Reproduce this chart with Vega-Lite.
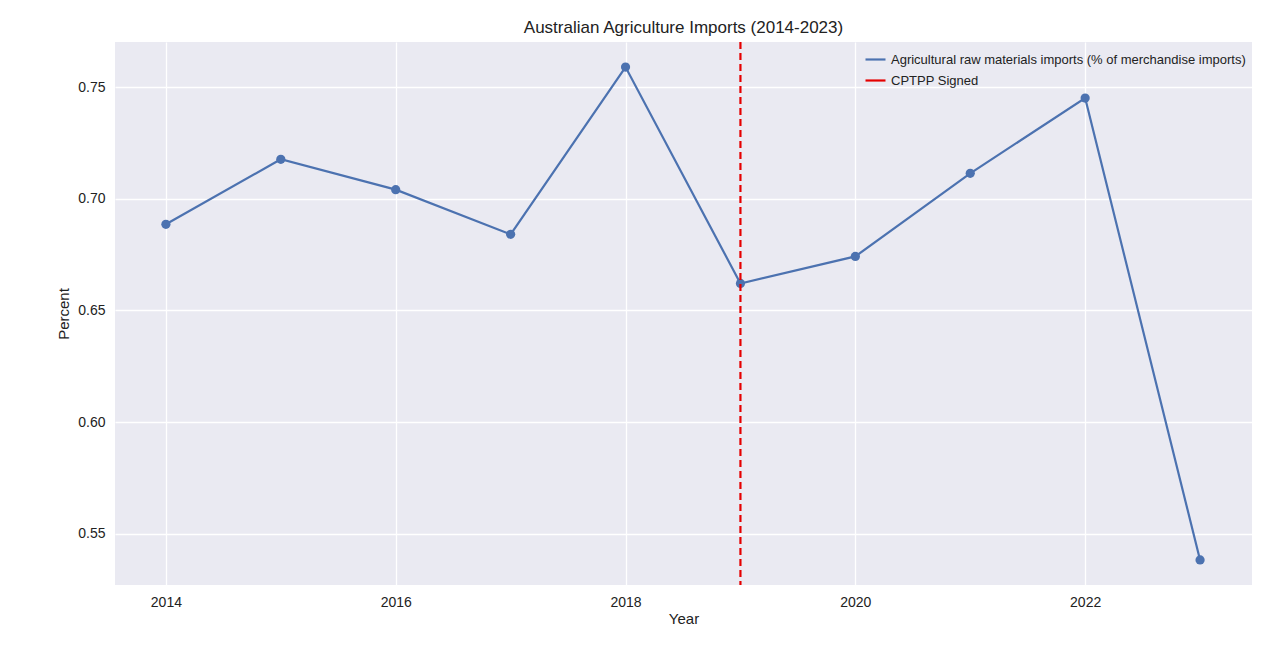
{
  "$schema": "https://vega.github.io/schema/vega-lite/v6.json",
  "autosize": {"type": "fit", "contains": "padding"},
  "width": 1276,
  "height": 653,
  "padding": {"left": 56, "top": 18, "right": 24, "bottom": 27},
  "background": "white",
  "title": {"text": "Australian Agriculture Imports (2014-2023)", "font": "Liberation Sans", "fontSize": 17, "fontWeight": "normal", "color": "#222", "offset": 4},
  "config": {
    "view": {"fill": "#eaeaf2", "stroke": null},
    "font": "Liberation Sans",
    "axis": {"grid": true, "gridColor": "white", "gridWidth": 1.3, "domain": false, "ticks": false, "labelFontSize": 14, "labelColor": "#222", "titleFontSize": 15, "titleFontWeight": "normal", "titleColor": "#222", "labelPadding": 10}
  },
  "data": {"values": [
    {"Year": 2014, "Percent": 0.6886},
    {"Year": 2015, "Percent": 0.7177},
    {"Year": 2016, "Percent": 0.7041},
    {"Year": 2017, "Percent": 0.6841},
    {"Year": 2018, "Percent": 0.7590},
    {"Year": 2019, "Percent": 0.6621},
    {"Year": 2020, "Percent": 0.6742},
    {"Year": 2021, "Percent": 0.7114},
    {"Year": 2022, "Percent": 0.7451},
    {"Year": 2023, "Percent": 0.5383}
  ]},
  "layer": [
    {
      "mark": {"type": "line", "strokeWidth": 2.2, "point": {"size": 85, "filled": true, "opacity": 1}},
      "encoding": {
        "x": {"field": "Year", "type": "quantitative", "scale": {"domain": [2013.557, 2023.452], "nice": false, "zero": false}, "axis": {"values": [2014, 2016, 2018, 2020, 2022], "format": "d", "titlePadding": 2}},
        "y": {"field": "Percent", "type": "quantitative", "scale": {"domain": [0.5271, 0.7702], "nice": false, "zero": false}, "axis": {"values": [0.55, 0.6, 0.65, 0.7, 0.75], "format": ".2f", "titlePadding": 6}},
        "color": {"datum": "Agricultural raw materials imports (% of merchandise imports)", "type": "nominal",
          "scale": {"domain": ["Agricultural raw materials imports (% of merchandise imports)", "CPTPP Signed"], "range": ["#4c72b0", "#e50000"]},
          "legend": {"title": null, "orient": "top-right", "offset": 6, "symbolType": "stroke", "symbolStrokeWidth": 2.2, "symbolSize": 400, "labelFontSize": 13, "labelLimit": 500, "labelColor": "#222", "rowPadding": 2}}
      }
    },
    {
      "data": {"values": [{"Year": 2019}]},
      "mark": {"type": "rule", "strokeDash": [7, 4], "strokeWidth": 2.2},
      "encoding": {
        "x": {"field": "Year", "type": "quantitative"},
        "color": {"datum": "CPTPP Signed", "type": "nominal"}
      }
    }
  ]
}
